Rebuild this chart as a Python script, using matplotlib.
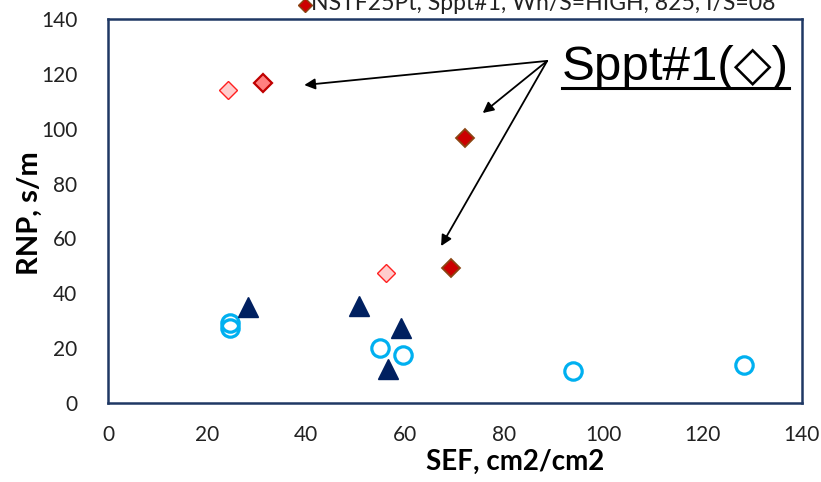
import matplotlib.pyplot as plt
from matplotlib.lines import Line2D

# SEF / RNP values per sample group
pale_sef = [24.2, 56.1]
pale_rnp = [114.2, 47.3]

salmon_sef = [31.3]
salmon_rnp = [116.8]

sppt1_sef = [72.0, 69.2]
sppt1_rnp = [96.5, 49.2]

tri_sef = [28.2, 50.6, 59.1, 56.5]
tri_rnp = [35.0, 35.5, 27.5, 12.4]

circ_sef = [24.6, 24.6, 54.9, 59.5, 93.8, 128.3]
circ_rnp = [29.3, 27.5, 20.2, 17.5, 11.7, 13.9]

legend_label = "NSTF25Pt, Sppt#1, Wh/S=HIGH, 825, I/S=08"
callout = "Sppt#1(\u25c7)"

plt.rcParams['font.family'] = ['Lato', 'DejaVu Sans']

fig = plt.figure(figsize=(8.21, 4.82), dpi=100)
ax = fig.add_axes([0.1315, 0.164, 0.8453, 0.7967])

ax.plot(circ_sef, circ_rnp, 'o', ms=12.5, mfc='none', mec='#00B0F0', mew=2.3, zorder=3)
ax.plot(tri_sef, tri_rnp, '^', ms=15, color='#002060', zorder=3)
ax.plot(pale_sef, pale_rnp, 'D', ms=9.5, mfc='#FFCCCC', mec='#FF2020', mew=1.0, zorder=3)
ax.plot(salmon_sef, salmon_rnp, 'D', ms=9.5, mfc='#FF8080', mec='#C00000', mew=1.6, zorder=3)
ax.plot(sppt1_sef, sppt1_rnp, 'D', ms=9.5, mfc='#CC0000', mec='#8B4513', mew=1.3, zorder=3)

ax.set_xlim(0, 140)
ax.set_ylim(0, 140)
ax.set_xticks(range(0, 141, 20))
ax.set_yticks(range(0, 141, 20))
ax.tick_params(length=0, labelsize=15, colors='#222222')
ax.tick_params(axis='x', pad=16)
ax.tick_params(axis='y', pad=22)
for s in ax.spines.values():
    s.set_color('#1F3864')
    s.set_linewidth(1.8)

ax.set_xlabel("SEF, cm2/cm2", fontsize=20, fontweight='bold')
ax.xaxis.set_label_coords(0.586, -0.12)
ax.set_ylabel("RNP, s/m", fontsize=21, fontweight='bold')
ax.yaxis.set_label_coords(-0.094, 0.495)

# arrows from the callout to the Sppt#1 points
start = (88.6, 124.7)
for end in [(39.6, 115.9), (75.6, 105.7), (67.2, 57.2)]:
    ax.annotate("", xy=end, xytext=start,
                arrowprops=dict(arrowstyle='-|>', color='black', lw=1.3,
                                mutation_scale=16, shrinkA=0, shrinkB=0))

txt = ax.text(91.6, 117.8, callout, fontsize=35.5,
              family=['Liberation Sans', 'DejaVu Sans'], va='baseline', ha='left')

# partly clipped legend entry above the plot
fig.text(0.379, 0.979, legend_label, fontsize=16.6, va='baseline', ha='left', color='#222222')
fig.add_artist(Line2D([0.372], [0.99], marker='D', ms=7.5, mfc='#CC0000', mec='#8B4513',
                      mew=1, transform=fig.transFigure))

# underline the callout text
fig.canvas.draw()
bb = txt.get_window_extent().transformed(fig.transFigure.inverted())
fig.add_artist(Line2D([bb.x0, bb.x1], [bb.y0 + 0.004, bb.y0 + 0.004], color='black',
                      lw=2.2, transform=fig.transFigure))

fig.savefig("out.png", dpi=100)
